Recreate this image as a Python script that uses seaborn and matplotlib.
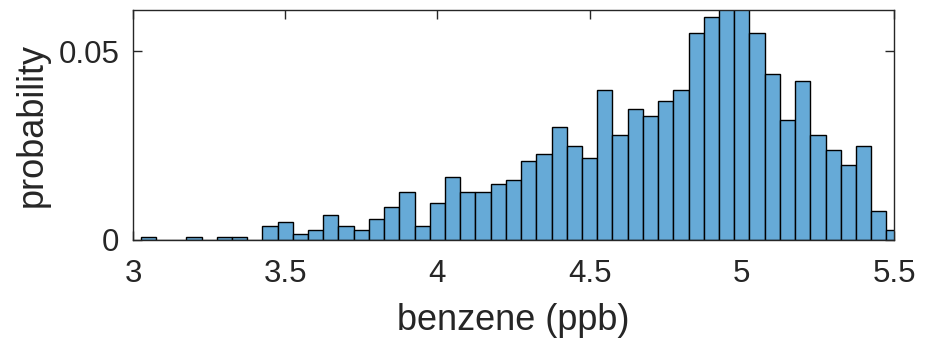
import numpy as np
import pandas as pd
import matplotlib
matplotlib.use("Agg")
import matplotlib.pyplot as plt
import seaborn as sns

# Benzene concentration histogram (bin centres in ppb, probability per bin)
bin_centers = [3.05, 3.10, 3.15, 3.20, 3.25, 3.30, 3.35, 3.40, 3.45, 3.50,
               3.55, 3.60, 3.65, 3.70, 3.75, 3.80, 3.85, 3.90, 3.95, 4.00,
               4.05, 4.10, 4.15, 4.20, 4.25, 4.30, 4.35, 4.40, 4.45, 4.50,
               4.55, 4.60, 4.65, 4.70, 4.75, 4.80, 4.85, 4.90, 4.95, 5.00,
               5.05, 5.10, 5.15, 5.20, 5.25, 5.30, 5.35, 5.40, 5.45, 5.50]
probability = [0.0007, 0.0, 0.0, 0.0007, 0.0, 0.0007, 0.0007, 0.0, 0.0037, 0.0049,
               0.0016, 0.0027, 0.0067, 0.0037, 0.0026, 0.0057, 0.0088, 0.0128, 0.0037, 0.0099,
               0.0168, 0.0127, 0.0127, 0.0148, 0.0158, 0.0209, 0.0228, 0.0299, 0.0249, 0.0218,
               0.0399, 0.0279, 0.0348, 0.0329, 0.0370, 0.0399, 0.0550, 0.0591, 0.0625, 0.0632,
               0.0550, 0.0440, 0.0318, 0.0421, 0.0279, 0.0239, 0.0199, 0.0249, 0.0078, 0.0027]
x_ticks = [3, 3.5, 4, 4.5, 5, 5.5]
y_ticks = [0, 0.05]
y_tick_labels = ["0", "0.05"]

df = pd.DataFrame({"benzene": bin_centers, "p": probability})

sns.set_style("white")
plt.rcParams["font.family"] = ["Liberation Sans", "DejaVu Sans"]

fig = plt.figure(figsize=(9.25, 3.43), dpi=100)
ax = fig.add_axes([0.1438, 0.3003, 0.8227, 0.6705])

bar_color = (0.4, 0.668, 0.845)
sns.histplot(data=df, x="benzene", weights="p", binwidth=0.05,
             binrange=(3.025, 5.525), stat="count", color=bar_color,
             alpha=1.0, edgecolor="black", linewidth=1.0, ax=ax)

ax.set_xlim(3, 5.5)
ax.set_ylim(0, 0.061)
ax.set_xticks(x_ticks)
ax.set_xticklabels([f"{v:g}" for v in x_ticks])
ax.set_yticks(y_ticks)
ax.set_yticklabels(y_tick_labels)

axis_color = "#262626"
for s in ax.spines.values():
    s.set_visible(True)
    s.set_color(axis_color)
    s.set_linewidth(1.0)
    s.set_zorder(5)
ax.tick_params(axis="both", which="both", direction="in", length=6.5, width=1.0,
               color=axis_color, labelcolor=axis_color, labelsize=22.5,
               top=True, right=True, bottom=True, left=True)
ax.tick_params(axis="x", pad=14)
ax.tick_params(axis="y", pad=10)

ax.set_xlabel("benzene (ppb)", fontsize=26, color=axis_color, labelpad=10)
ax.set_ylabel("probability", fontsize=26, color=axis_color, labelpad=6)

fig.savefig("out.png", dpi=100, facecolor="white")
